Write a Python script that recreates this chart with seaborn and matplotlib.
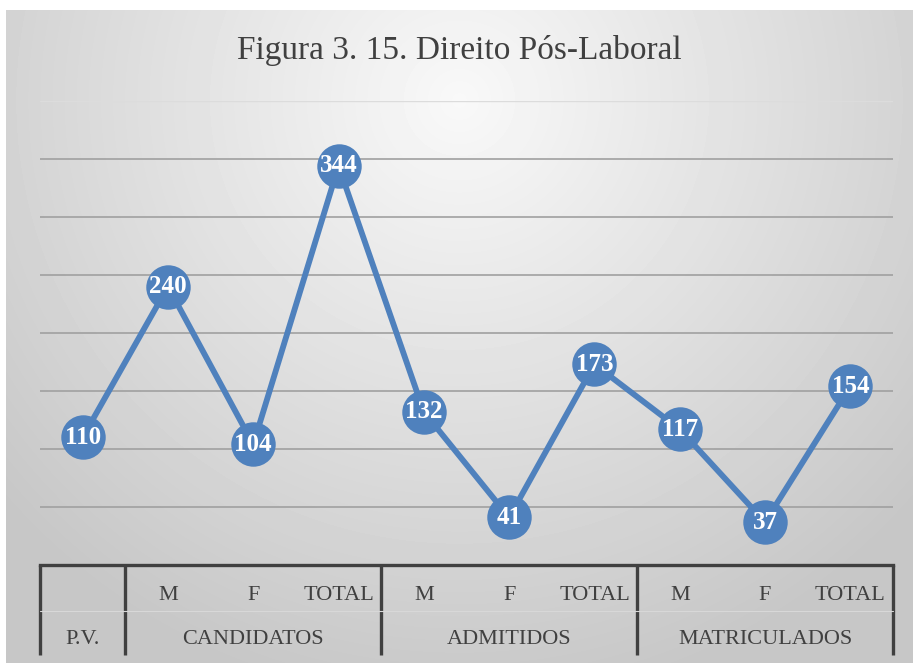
import matplotlib
matplotlib.use("Agg")
import matplotlib.pyplot as plt
import matplotlib.transforms as mtransforms
import numpy as np
import pandas as pd
import seaborn as sns

# chart data
groups = ["P.V.", "CANDIDATOS", "CANDIDATOS", "CANDIDATOS",
          "ADMITIDOS", "ADMITIDOS", "ADMITIDOS",
          "MATRICULADOS", "MATRICULADOS", "MATRICULADOS"]
subs = ["", "M", "F", "TOTAL", "M", "F", "TOTAL", "M", "F", "TOTAL"]
values = [110, 240, 104, 344, 132, 41, 173, 117, 37, 154]
title = "Figura 3. 15. Direito Pós-Laboral"

BLUE = "#4f81bd"
SERIF = ["Liberation Serif", "DejaVu Serif"]

sns.set_style("white")
plt.rcParams["font.family"] = SERIF

df = pd.DataFrame({"pos": np.arange(len(values)), "value": values,
                   "group": groups, "sub": subs})

fig = plt.figure(figsize=(9.19, 6.63), dpi=100)
fig.patch.set_facecolor("white")

# radial grey background of the chart area
bg = fig.add_axes([6 / 919, 0, 907 / 919, 653 / 663])
bg.set_axis_off()
yy, xx = np.mgrid[0:653, 0:907]
dist = np.sqrt(((xx - 453) / 620.0) ** 2 + ((yy - 90) / 620.0) ** 2)
shade = np.clip(0.975 - 0.20 * dist, 0.78, 1.0)
bg.imshow(shade, cmap="gray", vmin=0, vmax=1, aspect="auto",
          interpolation="bilinear", extent=[0, 1, 0, 1])
bg.set_xlim(0, 1)
bg.set_ylim(0, 1)

ax = fig.add_axes([40 / 919, 1 - 565 / 663, 853 / 919, 464 / 663])
ax.patch.set_alpha(0)

sns.lineplot(data=df, x="pos", y="value", ax=ax, color=BLUE, linewidth=4.2,
             marker="o", markersize=32, markeredgecolor=BLUE, markeredgewidth=0,
             sort=False, zorder=3)

for x, v in zip(df["pos"], df["value"]):
    ax.text(x, v, str(v), ha="center", va="center", color="white",
            fontsize=18, fontweight="bold", zorder=4)

ax.set_xlim(-0.5, len(values) - 0.5)
ax.set_ylim(0, 400)
ax.set_yticks(np.arange(50, 351, 50))
ax.yaxis.grid(True, color="#a0a0a0", linewidth=1.2)
ax.axhline(400, color="#dcdcdc", linewidth=1.0, zorder=1)
ax.set_yticklabels([])
ax.tick_params(left=False, bottom=False)
ax.set_xticks([])
ax.set_xlabel("")
ax.set_ylabel("")
for side in ["left", "right", "top"]:
    ax.spines[side].set_visible(False)
ax.spines["bottom"].set_color("#404040")
ax.spines["bottom"].set_linewidth(2.4)

# multi-level category axis
trans = mtransforms.blended_transform_factory(ax.transData, ax.transAxes)
bottom = -90 / 464
for x, s in zip(df["pos"], subs):
    if s:
        ax.text(x, -30 / 464, s, transform=trans, ha="center", va="center",
                fontsize=16, color="#404040")

bounds = [-0.5]
for i in range(1, len(groups)):
    if groups[i] != groups[i - 1]:
        bounds.append(i - 0.5)
bounds.append(len(groups) - 0.5)
for b in bounds:
    ax.plot([b, b], [0, bottom], transform=trans, color="#404040",
            linewidth=2.4, clip_on=False, solid_capstyle="butt")
ax.plot([-0.5, len(groups) - 0.5], [-46 / 464, -46 / 464], transform=trans,
        color="#d8d8d8", linewidth=0.8, clip_on=False)
for a, b in zip(bounds[:-1], bounds[1:]):
    ax.text((a + b) / 2, -74 / 464, groups[int(a + 0.5)], transform=trans,
            ha="center", va="center", fontsize=16, color="#404040")

fig.text(0.5, 1 - 50 / 663, title, ha="center", va="center",
         fontsize=24, color="#404040")

fig.savefig("out.png", dpi=100)
